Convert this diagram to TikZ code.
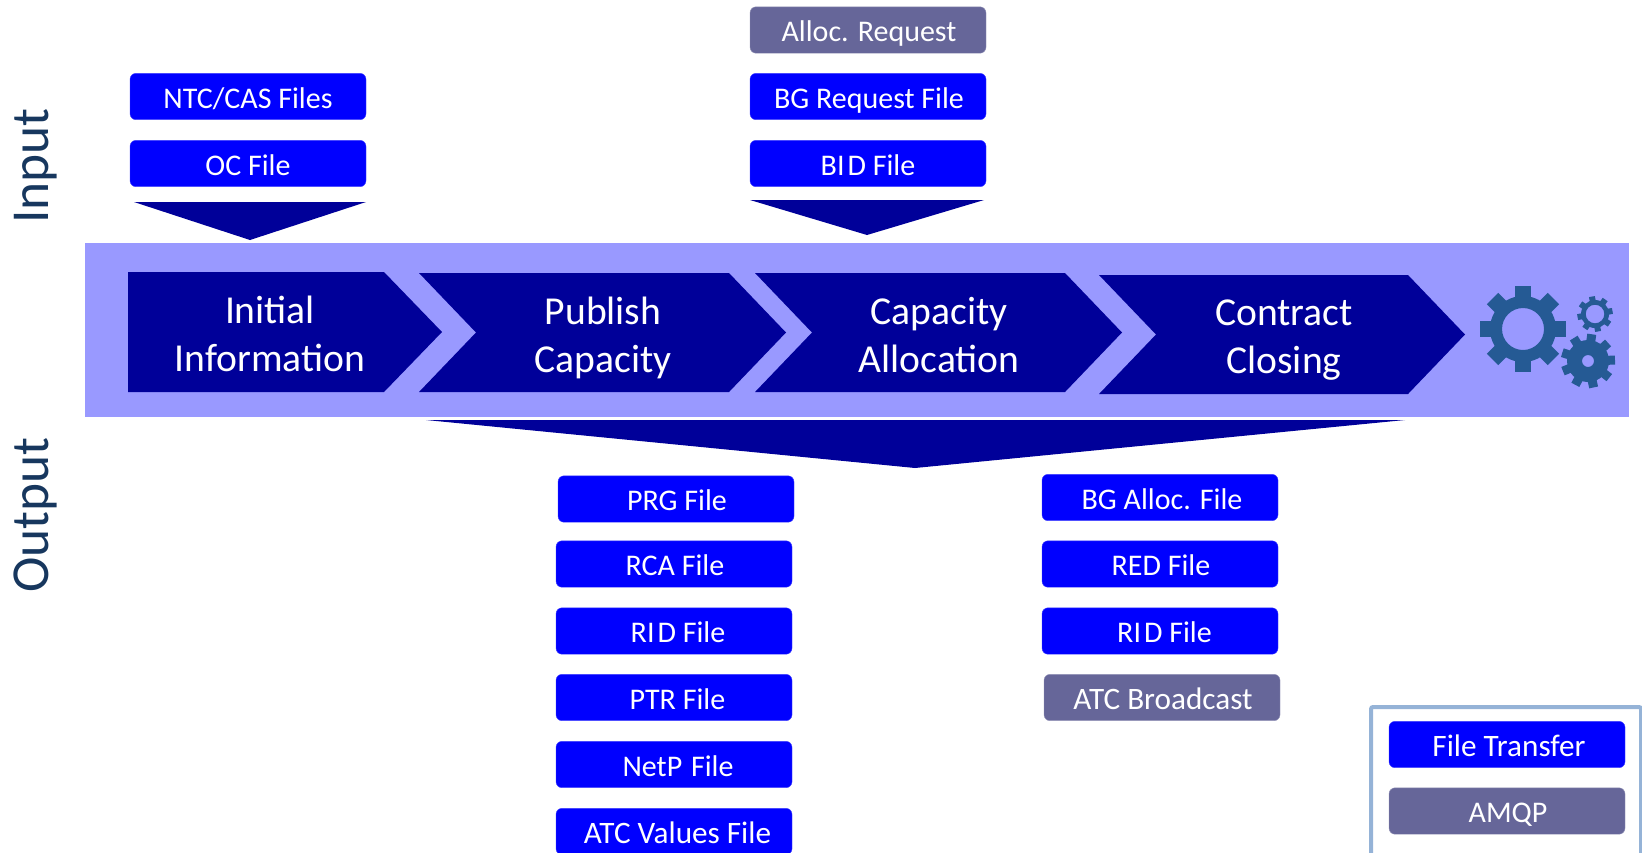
\documentclass[tikz,border=0pt]{standalone}
\usepackage{fontspec}
\setmainfont{Carlito}
\usepackage{tikz}

\definecolor{bandcolor}{HTML}{9999FF}
\definecolor{stepcolor}{HTML}{000099}
\definecolor{filecolor}{HTML}{0000FF}
\definecolor{amqpcolor}{HTML}{666699}
\definecolor{legendcolor}{HTML}{95B3D7}
\definecolor{labelcolor}{HTML}{17375E}
\definecolor{gearcolor}{HTML}{255A94}

% x, y, outer radius, body radius, hole radius, tooth width, teeth, start angle
\newcommand{\gearicon}[8]{
    \begin{scope}[shift={(#1,#2)}]
        \fill[gearcolor, even odd rule] (0,0) circle (#4) (0,0) circle (#5);
        \pgfmathsetmacro{\gearstep}{360/#7}
        \foreach \i in {1,...,#7} {
            \fill[gearcolor, rotate=#8+\i*\gearstep] (-#6/2,#4-1) rectangle (#6/2,#3);
        }
    \end{scope}
}
% left, notch, shoulder, tip, top, bottom
\newcommand{\stepchevron}[6]{
    \fill[stepcolor] (#1,#5) -- (#3,#5) -- (#4,{(#5+#6)/2}) -- (#3,#6) -- (#1,#6) -- (#2,{(#5+#6)/2}) -- cycle;
}

\begin{document}
\begin{tikzpicture}[
                x=0.5pt, y=-0.5pt,
                boxbase/.style={rectangle, rounded corners=3pt, minimum width=118pt, minimum height=23.2pt, text height=11.5pt, text depth=0pt, inner sep=0pt, outer sep=0pt, text=white, font=\fontsize{15}{17}\selectfont},
                filebox/.style={boxbase, fill=filecolor, draw=filecolor!75!white, line width=0.2pt},
                amqpbox/.style={boxbase, fill=amqpcolor, draw=amqpcolor!70!white, line width=0.2pt},
                widetext/.style={font=\fontsize{15.6}{17}\selectfont},
                steptext/.style={align=center, text=white, inner sep=0pt, font=\fontsize{19.8}{24}\selectfont},
                sidelabel/.style={rotate=90, anchor=base, text=labelcolor, inner sep=0pt, font=\fontsize{26.7}{30}\selectfont}]

            \clip (0,0) rectangle (1642,852);
            \useasboundingbox (0,0) rectangle (1642,852);

            % Band
            \fill[bandcolor] (85,243) rectangle (1629,417);
            \fill[stepcolor] (128,272) -- (384,272) -- (442,332) -- (384,392) -- (128,392) -- cycle;
            \stepchevron{419}{476}{729}{786}{273}{392}
            \stepchevron{755}{812}{1065}{1122}{273}{392}
            \stepchevron{1099}{1156}{1408}{1465}{275}{394}

            \node[steptext] (initial) at (270,333.5) {Initial\\Information};
            \node[steptext] (publish) at (603,337.5) {Publish\\Capacity};
            \node[steptext] (allocation) at (939,335.5) {Capacity\\Allocation};
            \node[steptext] (closing) at (1284,340) {Contract\\Closing};

            % Gears
            \gearicon{1523}{329}{43}{33}{21}{16}{8}{0}
            \gearicon{1595}{314}{17.7}{14}{9.3}{6}{8}{10}
            \gearicon{1588}{361}{27}{21}{6}{9}{9}{12}

            % Side labels
            \node[sidelabel] (input) at (48,166) {Input};
            \node[sidelabel] (output) at (48,515) {Output};

            % Input files
            \node[filebox] (ntc) at (248,96.5) {NTC/CAS Files};
            \node[filebox] (oc) at (248,163.5) {OC File};
            \fill[stepcolor] (134,202) -- (366,202) -- (250,240) -- cycle;

            \node[amqpbox] (request) at (868,30) {\hspace*{1pt}Alloc. Request};
            \node[filebox] (bg) at (868,96.5) {\hspace*{1pt}BG Request File};
            \node[filebox] (bid) at (868,163.5) {BI\kern1.5pt D File};
            \fill[stepcolor] (750,200) -- (984,200) -- (867,235) -- cycle;

            % Output files
            \fill[stepcolor] (426,420) -- (1405,420) -- (915,468) -- cycle;

            \node[filebox] (prg) at (676,499) {\hspace*{1pt}PRG File};
            \node[filebox] (rca) at (674,564) {\hspace*{1pt}RCA File};
            \node[filebox] (rid) at (674,631) {\hspace*{4pt}RI\kern1.5pt D File};
            \node[filebox] (ptr) at (674,697.5) {\hspace*{3.5pt}PTR File};
            \node[filebox] (netp) at (674,764.5) {\hspace*{4pt}NetP\kern1pt{} File};
            \node[filebox, widetext] (atc) at (674,831.5) {\hspace*{3.5pt}ATC Values File};

            \node[filebox] (alloc) at (1160,497.5) {\hspace*{2pt}BG Alloc. File};
            \node[filebox] (red) at (1160,564) {\hspace*{1pt}RED File};
            \node[filebox] (ridb) at (1160,631) {\hspace*{4.5pt}RI\kern1.5pt D File};
            \node[amqpbox, widetext] (broadcast) at (1162,697.5) {\hspace*{1pt}ATC Broadcast};

            % Legend
            \draw[legendcolor, line width=2pt, rounded corners=1pt] (1371,707) rectangle (1641,870);
            \node[filebox, widetext] (transfer) at (1507,744.5) {\hspace*{2pt}File Transfer};
            \node[amqpbox] (amqp) at (1507,811) {\hspace*{1pt}AMQP};

        \end{tikzpicture}
\end{document}
